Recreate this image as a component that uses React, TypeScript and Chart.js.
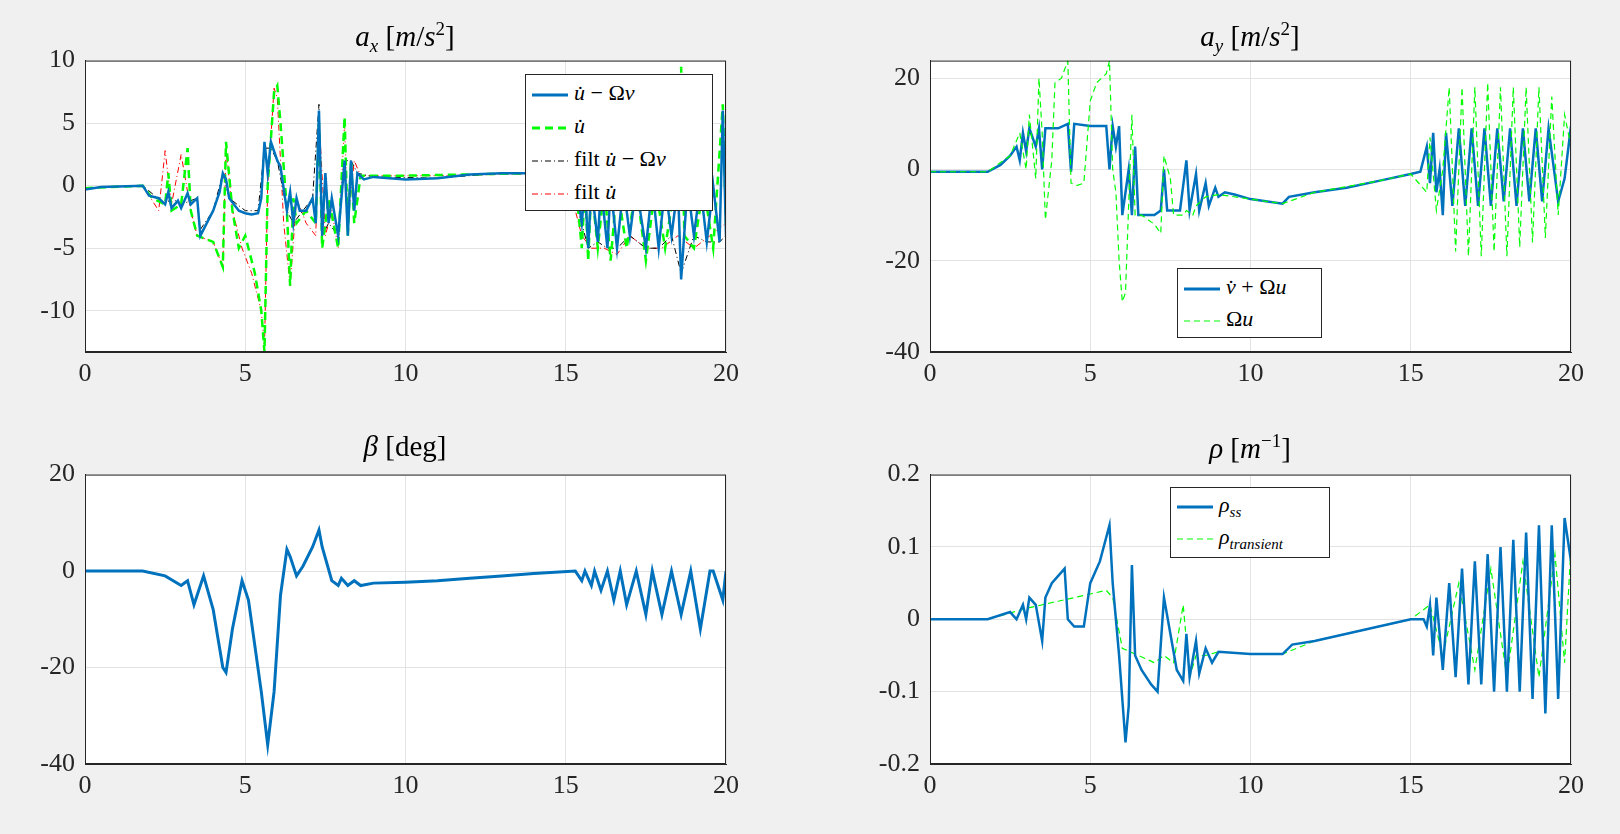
import React, { useEffect, useRef } from "react";
import { Chart, registerables } from "chart.js";
Chart.register(...registerables);

// ---- data ----
const axBlueT = [0,0.5,1.8,2,2.3,2.5,2.6,2.7,2.9,3,3.2,3.3,3.5,3.6,3.8,4,4.2,4.3,4.4,4.5,4.8,5,5.2,5.4,5.5,5.6,5.7,5.8,6,6.1,6.3,6.4,6.5,6.6,6.7,6.9,7.1,7.2,7.3,7.4,7.5,7.6,7.7,7.9,8,8.1,8.2,8.3,8.4,8.5,8.7,9,10,11,12,13,14,15,15.3,15.5,15.6,15.7,15.8,16,16.1,16.3,16.4,16.6,16.8,17,17.2,17.5,17.7,17.9,18.1,18.3,18.5,18.6,18.8,19,19.2,19.4,19.6,19.8,19.9,20];
const axBlueY = [-0.3,-0.1,0,-0.8,-1,-1.5,-0.5,-1.8,-1.2,-1.8,-0.6,-1.5,-1,-4,-3,-2,-0.5,1,0.5,-1,-2,-2.2,-2.3,-2.2,-1,3.5,1,3.5,2,1.5,-2,-0.5,-3,-1,-2,-2,-1,-3,6,-4,1,-3,-1,-4,-1,2,-4,2,-2,1,0.5,0.7,0.5,0.6,0.9,1,1,1,0.5,-3,0,-5,0,-4.5,0,-5,0,-5,0,-4,0,-5,0,-5,0,-4,0,-7.5,0,-4,0,-4.5,0,-4.5,6,-4];
const axGreenT = [0,1.8,2.1,2.5,2.6,2.7,3,3.2,3.3,3.5,4,4.3,4.4,4.6,4.8,5,5.3,5.5,5.6,5.7,5.9,6,6.1,6.3,6.4,6.5,6.6,6.9,7.2,7.3,7.4,7.6,7.9,8.1,8.2,8.3,8.4,8.6,9,10,12,14,15,15.3,15.5,15.6,15.7,15.8,16,16.2,16.4,16.6,16.9,17.2,17.5,17.8,18.1,18.4,18.6,18.7,19,19.3,19.6,19.9,20];
const axGreenY = [-0.2,0,-1,-1.5,1,-2,-1.5,3,-2,-4,-4.5,-6.5,3.5,-2,-5,-4,-7,-10,-13.3,0,7.5,8,5,-2,-8,-1,-3,-2,-3,5,-5,-1,-5,5.5,-4,2,-3,0.8,0.8,0.8,0.9,1,1,0.5,-5,0,-6,0,-5,0,-6,0,-5,0,-6,0,-5,0,9.5,-4,-5,0,-5,6.5,-3];
const axBlackT = [0,1.8,2.5,2.7,3,3.5,3.6,4,4.3,4.5,5,5.4,5.6,5.8,6,6.3,6.5,6.8,7.1,7.3,7.4,7.6,7.9,8.1,8.3,8.5,9,11,13,15,15.5,15.7,16,16.3,16.6,17,17.5,17.9,18.3,18.6,19,19.4,19.8,20];
const axBlackY = [-0.2,0,-1.5,-1,-1.5,-1,-3.5,-2,1,-1,-2,-2,3,3,2,-2,-3,-2,-1,6.5,-4,-3,-4,2,2,1,0.7,0.6,1,1,-3,-5,-4.5,-5,-5,-4,-5,-5,-4,-7,-4,-4.5,-4.5,-4];
const axRedT = [0,1.8,2.3,2.5,2.7,3,3.3,3.5,4,4.3,4.4,4.6,4.9,5.2,5.5,5.6,5.7,5.9,6,6.2,6.4,6.6,6.9,7.2,7.3,7.5,7.7,7.9,8.1,8.2,8.4,8.6,9,11,13,15,15.5,15.8,16.2,16.6,17,17.5,18,18.5,19,19.5,20];
const axRedY = [-0.2,0,-2,2.8,-1.5,2.5,-2,-4,-4.5,-6.5,3,-2,-5,-7,-10,-13,0,7.8,7,-3,-8,-1,-3,-4,5.5,-4,-2,-5,5,-3,2,0.8,0.8,0.8,0.9,1,-4,-5,-5,-5.5,-4,-5,-5,-4,-5,-4,-3];

const ayBlueT = [0,1.8,2.2,2.5,2.7,2.8,2.9,3,3.1,3.3,3.4,3.5,3.6,4,4.3,4.4,4.5,5,5.5,5.6,5.7,5.8,5.9,6,6.1,6.2,6.3,6.4,6.5,7,7.2,7.3,7.4,7.6,7.8,8,8.1,8.3,8.4,8.6,8.7,8.9,9,9.2,9.5,10,11,11.2,12,13,14,15,15.3,15.5,15.6,15.7,15.8,15.9,16,16.1,16.3,16.5,16.7,16.9,17.1,17.3,17.5,17.7,17.9,18.1,18.3,18.5,18.7,18.9,19.1,19.3,19.6,19.8,20];
const ayBlueY = [-0.5,-0.5,1,3,5,2,8,4,9,5,9,0,9,9,10,-0.5,10,9.5,9.5,0,9.5,5,9.5,-10,-5,0,-10,5,-10,-10,-9,0,-9,-9,-9,2,-9,-1,-9,-3,-8,-4,-6,-5,-5.5,-6.5,-7.5,-6,-5,-4,-2.5,-1,-0.5,5,-3,8,-5,0,-10,8,-8,9,-8,9,-8,9,-8,9,-7,9,-8,9,-7,9,-7,9,-7,-2,9.5];
const ayGreenT = [0,1.8,2.5,2.8,3,3.1,3.3,3.4,3.5,3.6,3.8,3.9,4.1,4.3,4.4,4.6,4.8,5,5.2,5.5,5.6,5.7,5.8,5.9,6,6.1,6.3,6.4,6.6,7,7.2,7.3,7.5,7.6,7.9,8,8.2,8.3,8.6,9,10,11,12,14,15,15.5,15.6,15.8,16,16.2,16.4,16.6,16.8,17,17.2,17.4,17.6,17.8,18,18.2,18.4,18.6,18.8,19,19.2,19.4,19.6,19.8,20];
const ayGreenY = [-0.5,-0.5,3,8,0,12,-2,20,8,-11,2,19,20,23.8,-3,-3.5,-3,15,19,21,23.8,0,-5,-20,-29,-27,12,-10,-10,-12,-14,3,-2,-10,-10,-9,-10,-8,-6,-5.5,-6.5,-7.5,-5,-2.5,-1,-5,7,-9,0,18,-18,18,-19,18,-19,19,-18,18,-19,18,-17,18,-16,18,-15,16,-10,12,5];

const betaT = [0,1.8,2.5,3,3.2,3.4,3.7,4,4.3,4.4,4.6,4.9,5.1,5.5,5.7,5.9,6.1,6.3,6.4,6.6,6.8,7.1,7.3,7.4,7.7,7.9,8,8.2,8.4,8.6,9,10,11,12,13,14,15.3,15.5,15.6,15.8,15.9,16.1,16.3,16.5,16.7,16.9,17.2,17.5,17.7,18,18.3,18.6,18.9,19.2,19.5,19.6,19.9,20];
const betaY = [0,0,-1,-3,-2,-7,-1,-8,-20,-21,-12,-2,-6,-25,-36,-25,-5,4.5,3,-1,1,5,8.5,5,-2,-3,-1.5,-3,-2,-3,-2.5,-2.3,-2,-1.5,-1,-0.5,0,-2,0,-3,0,-4,0,-6,0,-7,0,-9,0,-9,0,-9,0,-12,0,0,-6,0];

const rhoSsT = [0,1.8,2.5,2.7,2.9,3,3.1,3.3,3.5,3.6,3.8,4,4.2,4.3,4.5,4.8,5,5.3,5.6,5.7,5.9,6.1,6.2,6.3,6.4,6.6,6.9,7.1,7.3,7.5,7.7,7.9,8,8.1,8.3,8.4,8.6,8.8,9,10,11,11.3,12,13,14,15,15.4,15.5,15.6,15.7,15.8,16,16.2,16.4,16.6,16.8,17,17.2,17.4,17.6,17.8,18,18.2,18.4,18.6,18.8,19,19.2,19.4,19.6,19.8,20];
const rhoSsY = [0,0,0.01,0,0.02,0,0.03,0.02,-0.03,0.03,0.05,0.06,0.07,0,-0.01,-0.01,0.05,0.08,0.13,0.05,-0.05,-0.17,-0.12,0.075,-0.05,-0.07,-0.09,-0.1,0.03,-0.02,-0.07,-0.085,-0.02,-0.08,-0.03,-0.075,-0.04,-0.06,-0.045,-0.048,-0.048,-0.035,-0.03,-0.02,-0.01,0,0,-0.01,0.02,-0.05,0.03,-0.07,0.05,-0.08,0.07,-0.09,0.08,-0.09,0.09,-0.1,0.1,-0.1,0.11,-0.1,0.12,-0.11,0.13,-0.13,0.13,-0.11,0.14,0.08];
const rhoTrT = [0,1.8,3,4,5,5.5,5.7,6,6.5,7,7.3,7.6,7.9,8.1,8.3,8.6,9,10,11,12,14,15,15.6,16,16.5,17,17.5,18,18.5,19,19.5,19.8,20];
const rhoTrY = [0,0,0.015,0.025,0.035,0.04,0.03,-0.04,-0.05,-0.06,-0.05,-0.06,0.02,-0.08,-0.05,-0.05,-0.045,-0.048,-0.048,-0.03,-0.01,0,0.02,-0.05,0.05,-0.07,0.07,-0.08,0.08,-0.08,0.09,-0.06,0.1];

const xTicks = [0, 5, 10, 15, 20];
const axTicks = [-10, -5, 0, 5, 10];
const ayTicks = [-40, -20, 0, 20];
const betaTicks = [-40, -20, 0, 20];
const rhoTicks = [-0.2, -0.1, 0, 0.1, 0.2];

const BLUE = "#0072BD";
const GREEN = "#00FF00";
const FONT = "'Liberation Serif', 'DejaVu Serif', serif";

const pts = (t: number[], y: number[]) => t.map((x, i) => ({ x, y: y[i] }));

type DS = { t: number[]; y: number[]; color: string; width: number; dash?: number[] };
type Panel = { left: number; top: number; w: number; h: number; ymin: number; ymax: number; yticks: number[]; ds: DS[] };

const boxPlugin = {
  id: "box",
  afterDraw(c: any) {
    const a = c.chartArea;
    const ctx = c.ctx;
    ctx.save();
    ctx.strokeStyle = "#262626";
    ctx.lineWidth = 1;
    ctx.strokeRect(a.left + 0.5, a.top + 0.5, a.right - a.left - 1, a.bottom - a.top - 1);
    ctx.restore();
  },
  beforeDraw(c: any) {
    const a = c.chartArea;
    c.ctx.save();
    c.ctx.fillStyle = "#fff";
    c.ctx.fillRect(a.left, a.top, a.right - a.left, a.bottom - a.top);
    c.ctx.restore();
  },
};

// chart.js places chart area ~26px below canvas top (label overflow)
const PADL = 82, PADT = 26, PADT_LAYOUT = 5, PADR = 20, PADB = 47;

function PlotPanel({ p }: { p: Panel }) {
  const ref = useRef<HTMLCanvasElement>(null);
  useEffect(() => {
    const chart = new Chart(ref.current!, {
      type: "line",
      data: {
        datasets: p.ds.map((d) => ({
          data: pts(d.t, d.y),
          borderColor: d.color,
          borderWidth: d.width,
          borderDash: d.dash || [],
          pointRadius: 0,
          tension: 0,
          fill: false,
        })),
      },
      options: {
        animation: false,
        responsive: false,
        maintainAspectRatio: false,
        layout: { padding: { top: PADT_LAYOUT, right: PADR, left: 0, bottom: 0 } },
        plugins: { legend: { display: false }, tooltip: { enabled: false } },
        scales: {
          x: {
            type: "linear", min: 0, max: 20,
            afterBuildTicks: (s: any) => { s.ticks = xTicks.map((v) => ({ value: v })); },
            afterFit: (s: any) => { s.height = PADB; },
            grid: { color: "#e3e3e3", tickLength: 0 },
            border: { color: "#262626" },
            ticks: { color: "#262626", font: { family: FONT, size: 26 }, padding: 7, maxRotation: 0 },
          },
          y: {
            type: "linear", min: p.ymin, max: p.ymax,
            afterBuildTicks: (s: any) => { s.ticks = p.yticks.map((v) => ({ value: v })); },
            afterFit: (s: any) => { s.width = PADL; },
            grid: { color: "#e3e3e3", tickLength: 0 },
            border: { color: "#262626" },
            ticks: { color: "#262626", font: { family: FONT, size: 26 }, padding: 10 },
          },
        },
      } as any,
      plugins: [boxPlugin],
    });
    return () => chart.destroy();
  }, []);
  return (
    <div style={{ position: "absolute", left: p.left - PADL, top: p.top - PADT, width: p.w + PADL + PADR, height: p.h + PADT + PADB }}>
      <canvas ref={ref} width={p.w + PADL + PADR} height={p.h + PADT + PADB} />
    </div>
  );
}

const panels: Panel[] = [
  { left: 85, top: 61, w: 641, h: 291, ymin: -13.3, ymax: 10, yticks: axTicks, ds: [
    { t: axBlueT, y: axBlueY, color: BLUE, width: 2.5 },
    { t: axGreenT, y: axGreenY, color: GREEN, width: 2.5, dash: [8, 5] },
    { t: axBlackT, y: axBlackY, color: "#000", width: 1, dash: [6, 3, 1, 3] },
    { t: axRedT, y: axRedY, color: "#FF0000", width: 1, dash: [6, 3, 1, 3] },
  ]},
  { left: 930, top: 61, w: 641, h: 291, ymin: -40, ymax: 23.85, yticks: ayTicks, ds: [
    { t: ayGreenT, y: ayGreenY, color: GREEN, width: 1.2, dash: [6, 4] },
    { t: ayBlueT, y: ayBlueY, color: BLUE, width: 2.5 },
  ]},
  { left: 85, top: 475, w: 641, h: 289, ymin: -40, ymax: 20, yticks: betaTicks, ds: [
    { t: betaT, y: betaY, color: BLUE, width: 3 },
  ]},
  { left: 930, top: 475, w: 641, h: 289, ymin: -0.2, ymax: 0.2, yticks: rhoTicks, ds: [
    { t: rhoSsT, y: rhoSsY, color: BLUE, width: 2.5 },
    { t: rhoTrT, y: rhoTrY, color: GREEN, width: 1.2, dash: [6, 4] },
  ]},
];

const Sample = ({ color, width, dash }: { color: string; width: number; dash?: string }) => (
  <svg width="40" height="10" style={{ marginRight: 4, verticalAlign: "middle" }}>
    <line x1="2" y1="5" x2="38" y2="5" stroke={color} strokeWidth={width} strokeDasharray={dash} />
  </svg>
);

const legendStyle = (left: number, top: number, w: number, h: number): React.CSSProperties => ({
  position: "absolute", left, top, width: w, height: h, background: "#fff", border: "1px solid #262626",
  boxSizing: "border-box", fontFamily: FONT, fontSize: 22, color: "#000", padding: "2px 4px",
  display: "flex", flexDirection: "column", justifyContent: "space-around", whiteSpace: "nowrap",
});

const Title = ({ cx, top, children }: { cx: number; top: number; children: React.ReactNode }) => (
  <div style={{ position: "absolute", left: cx - 200, width: 400, top, textAlign: "center", fontFamily: FONT, fontSize: 29, color: "#000" }}>{children}</div>
);

export default function App() {
  return (
    <div style={{ position: "fixed", left: 0, top: 0, width: 1620, height: 834, background: "#f0f0f0" }}>
      {panels.map((p, i) => <PlotPanel key={i} p={p} />)}
      <Title cx={405} top={18}><i>a</i><sub style={{ fontSize: 19 }}><i>x</i></sub> [<i>m</i>/<i>s</i><sup style={{ fontSize: 19 }}>2</sup>]</Title>
      <Title cx={1250} top={18}><i>a</i><sub style={{ fontSize: 19 }}><i>y</i></sub> [<i>m</i>/<i>s</i><sup style={{ fontSize: 19 }}>2</sup>]</Title>
      <Title cx={405} top={430}><i>β</i> [deg]</Title>
      <Title cx={1250} top={430}><i>ρ</i> [<i>m</i><sup style={{ fontSize: 19 }}>−1</sup>]</Title>
      <div style={legendStyle(525, 74, 188, 137)}>
        <div><Sample color={BLUE} width={3} /><i>u̇</i> − Ω<i>v</i></div>
        <div><Sample color={GREEN} width={3} dash="8 5" /><i>u̇</i></div>
        <div><Sample color="#000" width={1} dash="6 3 1 3" />filt <i>u̇</i> − Ω<i>v</i></div>
        <div><Sample color="#FF0000" width={1} dash="6 3 1 3" />filt <i>u̇</i></div>
      </div>
      <div style={legendStyle(1177, 268, 145, 70)}>
        <div><Sample color={BLUE} width={3} /><i>v̇</i> + Ω<i>u</i></div>
        <div><Sample color={GREEN} width={1.2} dash="6 4" />Ω<i>u</i></div>
      </div>
      <div style={legendStyle(1170, 487, 160, 71)}>
        <div><Sample color={BLUE} width={3} /><i>ρ</i><sub style={{ fontSize: 15 }}><i>ss</i></sub></div>
        <div><Sample color={GREEN} width={1.2} dash="6 4" /><i>ρ</i><sub style={{ fontSize: 15 }}><i>transient</i></sub></div>
      </div>
    </div>
  );
}
